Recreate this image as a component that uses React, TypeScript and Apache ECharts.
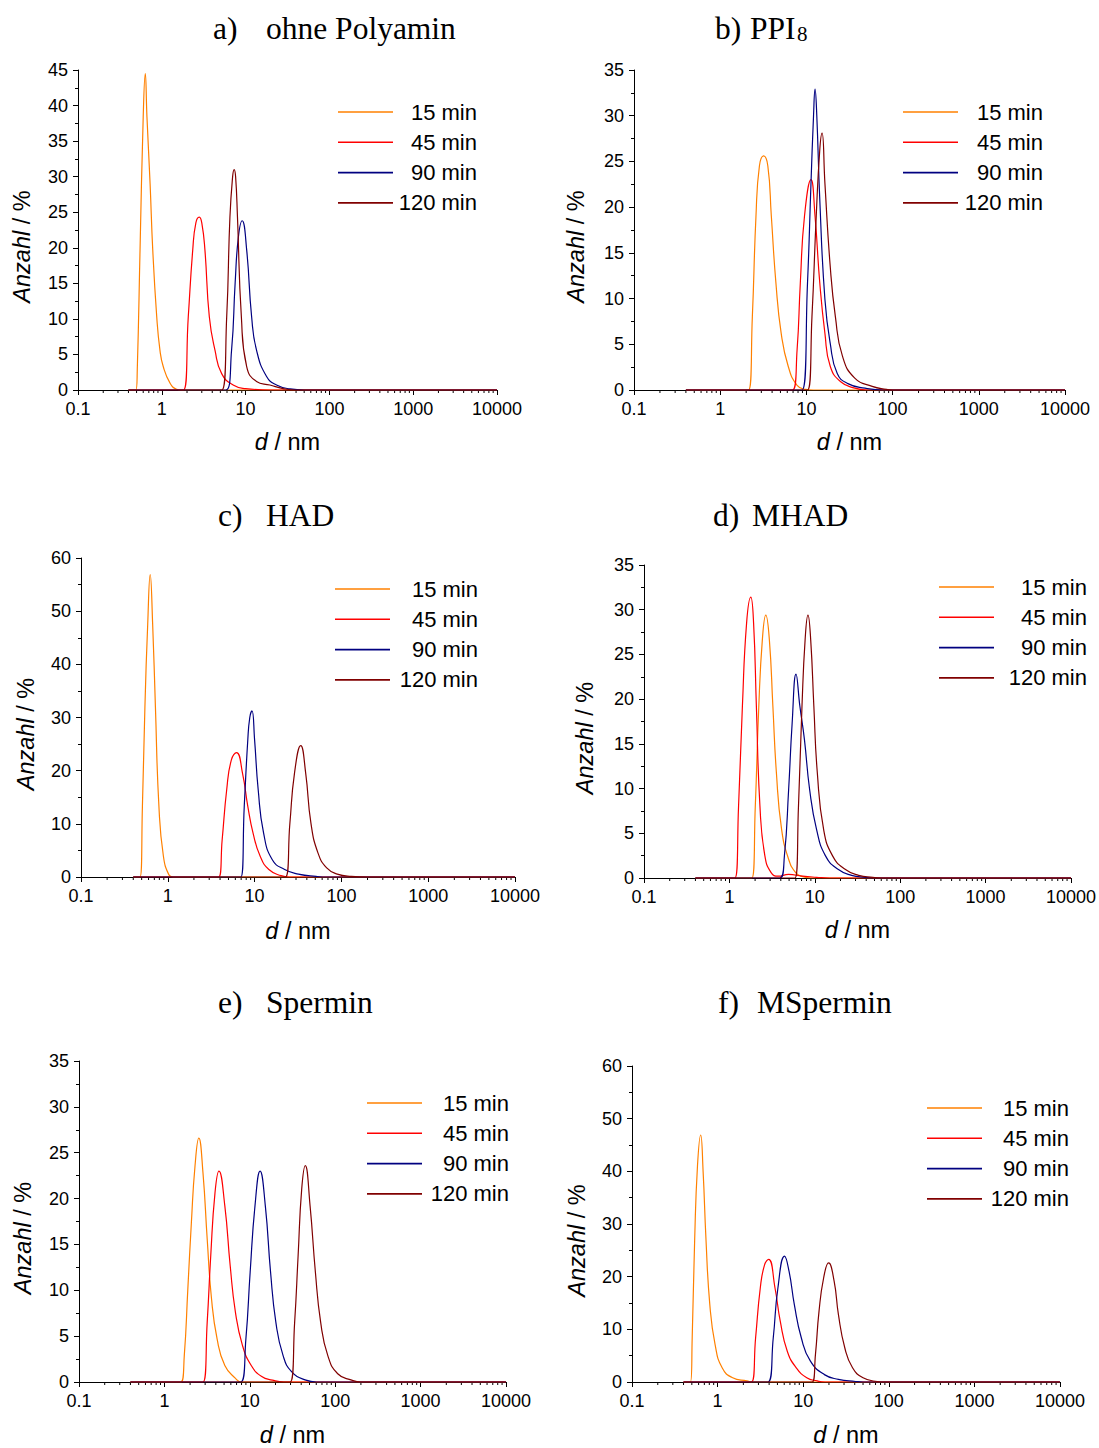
import React, { useEffect, useRef } from 'react';
import * as echarts from 'echarts';

const SANS = '"Liberation Sans", Arial, Helvetica, sans-serif';
const SERIF = '"Liberation Serif", "Times New Roman", serif';

// ---------- labels ----------
const timeNames = ['15 min', '45 min', '90 min', '120 min'];
const timeColors = ['#FF8000', '#FF0000', '#000080', '#800000'];
const xTickValues = [0.1, 1, 10, 100, 1000, 10000];
const panelLetters = ['a)', 'b)', 'c)', 'd)', 'e)', 'f)'];
const panelNames = ['ohne Polyamin', 'PPI', 'HAD', 'MHAD', 'Spermin', 'MSpermin'];
const panelSubscripts = ['', '8', '', '', '', ''];
const yMaxima = [45, 35, 60, 35, 35, 60];
const yIntervals = [5, 5, 10, 5, 5, 10];
const xAxisTitle = '{i|d} / nm';
const yAxisTitle = '{i|Anzahl} / %';

type Pt = [number, number];

// ---------- a) ohne Polyamin ----------
const a15: Pt[] = [[0.4, 0], [0.49, 0], [0.51, 3], [0.55, 19.7], [0.6, 38.4], [0.635, 44.5], [0.665, 38.4], [0.725, 29], [0.78, 19.7], [0.87, 10.3], [0.95, 5.6], [1.04, 3.3], [1.25, 1], [1.5, 0.1], [1.7, 0], [10000, 0]];
const a45: Pt[] = [[0.4, 0], [1.81, 0], [2.07, 10.3], [2.34, 19.7], [2.55, 23.5], [2.8, 24.3], [3.0, 23.5], [3.27, 19.7], [3.69, 10.3], [4.31, 5.6], [5.18, 2.3], [7.1, 0.7], [10, 0.2], [20, 0], [10000, 0]];
const a90: Pt[] = [[0.4, 0], [5.8, 0], [6.8, 5.6], [7.5, 15], [8.2, 21.5], [9.1, 23.8], [10.3, 19.7], [11.8, 10.3], [13.5, 5.6], [17.8, 1.9], [23.4, 0.7], [34, 0.15], [50, 0], [10000, 0]];
const a120: Pt[] = [[0.4, 0], [5.2, 0], [5.95, 10.3], [6.5, 24.3], [7.0, 30], [7.3, 31.0], [7.6, 30], [8.0, 24.3], [8.9, 10.3], [10.3, 3.3], [13.5, 1.2], [19.5, 0.7], [28, 0.2], [40, 0], [10000, 0]];

// ---------- b) PPI8 ----------
const b15: Pt[] = [[0.4, 0], [2.13, 0], [2.36, 8], [2.6, 19], [2.85, 24.5], [3.19, 25.6], [3.57, 24.5], [3.92, 19], [4.43, 11.7], [5.1, 6.2], [6.15, 2.6], [7.8, 0.5], [9.8, 0.07], [12, 0], [10000, 0]];
const b45: Pt[] = [[0.4, 0], [6.9, 0], [7.8, 4.4], [8.5, 11.7], [9.5, 19], [11.3, 23.0], [12.6, 19], [14.3, 11.7], [16.4, 6.2], [18.9, 2.6], [25, 0.9], [36.5, 0.2], [50, 0], [10000, 0]];
const b90: Pt[] = [[0.4, 0], [8.9, 0], [10.3, 11.7], [11.3, 22.6], [12.1, 30], [12.6, 32.9], [13.2, 30], [14.3, 20.8], [16.4, 9.9], [18.9, 5.1], [22.8, 1.8], [30.3, 0.7], [48, 0.2], [80, 0], [10000, 0]];
const b120: Pt[] = [[0.4, 0], [10.3, 0], [11.6, 8], [13, 19], [14.3, 26.3], [15.2, 28.1], [16.4, 22.6], [18.9, 13.5], [21.7, 8], [26.2, 3.7], [36.4, 1.3], [58, 0.4], [85, 0.07], [100, 0], [10000, 0]];

// ---------- c) HAD ----------
const c15: Pt[] = [[0.4, 0], [0.478, 0], [0.51, 13.3], [0.545, 32], [0.587, 47.6], [0.627, 56.9], [0.669, 47.6], [0.72, 32], [0.79, 13.3], [0.89, 3.9], [1.03, 0.4], [1.15, 0], [10000, 0]];
const c45: Pt[] = [[0.4, 0], [3.85, 0], [4.23, 7], [4.77, 16.4], [5.39, 22], [6.2, 23.4], [7.26, 19.5], [8.35, 13.3], [9.6, 8.25], [11.6, 3.9], [14.6, 1.4], [20.2, 0.25], [25, 0], [10000, 0]];
const c90: Pt[] = [[0.4, 0], [6.93, 0], [7.6, 13.3], [8.35, 25.8], [8.8, 30], [9.33, 31.25], [10.0, 25.8], [11.0, 16.4], [12.7, 8.25], [16.0, 3.25], [22.2, 1.4], [32, 0.55], [51, 0.12], [70, 0], [10000, 0]];
const c120: Pt[] = [[0.4, 0], [22.6, 0], [25.5, 10.1], [28.8, 19.5], [34, 24.7], [38.8, 19.5], [44.6, 10.1], [53.8, 4.5], [67.7, 1.7], [89.7, 0.55], [130, 0.12], [200, 0], [10000, 0]];

// ---------- d) MHAD ----------
const d15: Pt[] = [[0.4, 0], [1.83, 0], [2.01, 8], [2.21, 19.2], [2.43, 26.6], [2.67, 29.4], [2.94, 26.6], [3.23, 19.2], [3.55, 11.8], [4.09, 5.4], [4.94, 2.1], [5.97, 0.6], [7.2, 0.15], [9, 0], [10000, 0]];
const d45: Pt[] = [[0.4, 0], [1.16, 0], [1.28, 8], [1.42, 19.2], [1.59, 28.5], [1.78, 31.4], [1.92, 28.5], [2.07, 19.2], [2.28, 8], [2.6, 2.5], [3.08, 0.6], [3.72, 0.2], [4.94, 0.4], [7.2, 0.2], [10.5, 0.08], [15, 0], [10000, 0]];
const d90: Pt[] = [[0.4, 0], [3.9, 0], [4.41, 2.5], [4.94, 9.9], [5.43, 17.3], [6.03, 22.8], [6.69, 19.2], [7.56, 15.5], [8.7, 9.9], [10.5, 5.4], [13.3, 2.5], [18.5, 1], [27, 0.3], [39, 0.07], [50, 0], [10000, 0]];
const d120: Pt[] = [[0.4, 0], [5.86, 0], [6.44, 8], [7.08, 19.2], [7.7, 26.6], [8.32, 29.4], [8.96, 26.6], [9.75, 19.2], [10.7, 11.8], [12.7, 5.4], [16.1, 2.5], [22.4, 1], [32.7, 0.3], [47.8, 0.07], [60, 0], [10000, 0]];

// ---------- e) Spermin ----------
const e15: Pt[] = [[0.4, 0], [1.56, 0], [1.71, 2.9], [1.88, 10.1], [2.07, 17.4], [2.28, 23.5], [2.53, 26.6], [2.83, 22.8], [3.17, 15.6], [3.56, 9.1], [4.14, 4.7], [5.1, 1.8], [6.8, 0.4], [8, 0], [10000, 0]];
const e45: Pt[] = [[0.4, 0], [2.83, 0], [3.17, 6.5], [3.49, 13.8], [3.91, 20.6], [4.35, 23.0], [5.1, 19.2], [5.89, 12.7], [6.79, 7.6], [8.2, 4.0], [10.4, 1.8], [13.8, 0.6], [18.4, 0.2], [25, 0], [10000, 0]];
const e90: Pt[] = [[0.4, 0], [7.83, 0], [9.0, 4.7], [10.1, 12], [11.5, 19.2], [13.2, 23.0], [15.2, 19.2], [17.5, 12], [20.2, 6.5], [24.5, 2.9], [31, 1.1], [45.4, 0.2], [60, 0], [10000, 0]];
const e120: Pt[] = [[0.4, 0], [29.6, 0], [33.5, 6.5], [36.8, 13.8], [40.5, 21], [44.6, 23.6], [50.8, 19.2], [58.6, 12], [67.6, 6.5], [81.8, 2.9], [107, 0.9], [156, 0.2], [200, 0], [10000, 0]];

// ---------- f) MSpermin ----------
const f15: Pt[] = [[0.4, 0], [0.482, 0], [0.505, 8.4], [0.54, 27.2], [0.582, 41], [0.634, 46.9], [0.678, 39.8], [0.731, 27.2], [0.811, 14.7], [0.935, 7.1], [1.13, 2.7], [1.5, 0.8], [2.2, 0.2], [2.6, 0], [10000, 0]];
const f45: Pt[] = [[0.4, 0], [2.48, 0], [2.78, 8.4], [3.15, 17.8], [3.53, 22.2], [3.95, 23.3], [4.69, 17.8], [5.4, 11.5], [6.53, 5.8], [8.3, 2.7], [11, 0.8], [14.6, 0.2], [18, 0], [10000, 0]];
const f90: Pt[] = [[0.4, 0], [3.87, 0], [4.47, 8.4], [5.06, 17.8], [6.05, 23.9], [6.84, 21], [7.88, 14.7], [9.5, 8.4], [12.1, 4.0], [17.7, 1.4], [25.8, 0.5], [41, 0.1], [50, 0], [10000, 0]];
const f120: Pt[] = [[0.4, 0], [12.7, 0], [13.9, 5.2], [15.3, 13.4], [17.3, 19.7], [19.8, 22.6], [23, 19.1], [25.8, 12.8], [30.6, 6.5], [37.7, 2.7], [50, 0.8], [73, 0.1], [90, 0], [10000, 0]];

const panelData: Pt[][][] = [
  [a15, a45, a90, a120],
  [b15, b45, b90, b120],
  [c15, c45, c90, c120],
  [d15, d45, d90, d120],
  [e15, e45, e90, e120],
  [f15, f45, f90, f120],
];

// minor tick positions of the logarithmic axis (2..9 in each decade)
const minorTickValues: number[] = [];
for (const decade of [0.1, 1, 10, 100, 1000]) {
  for (let k = 2; k <= 9; k++) minorTickValues.push(+(k * decade).toPrecision(3));
}

// ---------- layout (pixels) ----------
// [left, top, width, height] of every plot area
const gridBoxes = [
  [78, 70, 419, 320],
  [634, 70, 431, 320],
  [81, 558, 434, 319],
  [644, 565, 428, 313],
  [79, 1061, 427, 323],
  [632, 1066, 428, 318],
];
// [left, top, text box width]
const legendBoxes = [
  [338, 101, 79],
  [903, 101, 80],
  [335, 578, 83],
  [939, 576, 88],
  [367, 1092, 82],
  [927, 1097, 82],
];
// [letter x, name x, middle y]
const titleBoxes = [
  [213, 266, 28],
  [715, 750, 28],
  [218, 266, 515],
  [713, 752, 515],
  [218, 266, 1002],
  [718, 757, 1002],
];
const subscriptX = 797;
const yNameGaps = [44, 46, 43, 47, 44, 43];
const xNameGaps = [40, 40, 42, 40, 41, 41];

const fmtLog = (v: number) => String(+Number(v).toPrecision(6));

function buildOption(): any {
  const grid = gridBoxes.map(([l, t, w, h]) => ({ left: l, top: t, width: w, height: h }));

  const xAxis = gridBoxes.map((_, i) => ({
    type: 'log',
    logBase: 10,
    gridIndex: i,
    min: xTickValues[0],
    max: xTickValues[xTickValues.length - 1],
    splitNumber: 5,
    axisLine: { show: true, onZero: false, lineStyle: { color: '#000', width: 1 } },
    axisTick: { show: true, length: 5, lineStyle: { color: '#000', width: 1 } },
    axisLabel: { color: '#000', fontSize: 18, fontFamily: SANS, margin: 10, formatter: fmtLog },
    splitLine: { show: false },
    name: xAxisTitle,
    nameLocation: 'middle',
    nameGap: xNameGaps[i],
    nameTextStyle: {
      color: '#000', fontSize: 23.5, fontFamily: SANS,
      rich: { i: { fontStyle: 'italic', fontSize: 23.5, fontFamily: SANS, color: '#000' } },
    },
  }));

  const yAxis = gridBoxes.map((_, i) => ({
    type: 'value',
    gridIndex: i,
    min: 0,
    max: yMaxima[i],
    interval: yIntervals[i],
    axisLine: { show: true, lineStyle: { color: '#000', width: 1 } },
    axisTick: { show: true, length: 5, lineStyle: { color: '#000', width: 1 } },
    minorTick: { show: true, splitNumber: 2, length: 3, lineStyle: { color: '#000', width: 1 } },
    axisLabel: { color: '#000', fontSize: 18, fontFamily: SANS, margin: 10 },
    splitLine: { show: false },
    minorSplitLine: { show: false },
    name: yAxisTitle,
    nameLocation: 'middle',
    nameGap: yNameGaps[i],
    nameTextStyle: {
      color: '#000', fontSize: 23.5, fontFamily: SANS,
      padding: [0, 33, 0, 0],
      rich: { i: { fontStyle: 'italic', fontSize: 23.5, fontFamily: SANS, color: '#000' } },
    },
  }));

  const series: any[] = [];
  panelData.forEach((curves, i) => {
    curves.forEach((pts, j) => {
      series.push({
        type: 'line',
        name: timeNames[j],
        xAxisIndex: i,
        yAxisIndex: i,
        data: pts,
        symbol: 'none',
        showSymbol: false,
        smooth: 0.5,
        color: timeColors[j],
        lineStyle: { color: timeColors[j], width: 1.2 },
        itemStyle: { color: timeColors[j] },
        z: 3 + j,
      });
    });
    series.push({
      type: 'custom',
      name: 'minorTicks',
      xAxisIndex: i,
      yAxisIndex: i,
      data: minorTickValues.map((v) => [v, 0]),
      clip: false,
      silent: true,
      z: 2,
      renderItem: (_p: any, api: any) => {
        const p = api.coord([api.value(0), 0]);
        return {
          type: 'line',
          shape: { x1: p[0], y1: p[1], x2: p[0], y2: p[1] + 3 },
          style: { stroke: '#000', lineWidth: 1 },
        };
      },
    });
  });

  const legend = legendBoxes.map(([l, t, w]) => ({
    left: l,
    top: t,
    orient: 'vertical',
    padding: 0,
    icon: 'rect',
    itemWidth: 55,
    itemHeight: 1.6,
    itemGap: 8.3,
    selectedMode: false,
    data: timeNames,
    formatter: (n: string) => `{r|${n}}`,
    textStyle: {
      color: '#000', fontSize: 22, fontFamily: SANS,
      rich: { r: { width: w, align: 'right', fontSize: 22, lineHeight: 22, fontFamily: SANS, color: '#000' } },
    },
  }));

  const graphic: any[] = [];
  titleBoxes.forEach(([lx, nx, my], i) => {
    graphic.push({
      type: 'text', x: lx, y: my,
      style: { text: panelLetters[i], fontSize: 31.5, fontFamily: SERIF, fill: '#000', align: 'left', verticalAlign: 'middle' },
    });
    graphic.push({
      type: 'text', x: nx, y: my,
      style: { text: panelNames[i], fontSize: 31.5, fontFamily: SERIF, fill: '#000', align: 'left', verticalAlign: 'middle' },
    });
    if (panelSubscripts[i]) {
      graphic.push({
        type: 'text', x: subscriptX, y: my + 6,
        style: { text: panelSubscripts[i], fontSize: 21, fontFamily: SERIF, fill: '#000', align: 'left', verticalAlign: 'middle' },
      });
    }
  });

  return {
    animation: false,
    backgroundColor: '#fff',
    grid,
    xAxis,
    yAxis,
    series,
    legend,
    graphic,
  };
}

export default function App() {
  const ref = useRef<HTMLDivElement>(null);
  useEffect(() => {
    if (!ref.current) return;
    const chart = echarts.init(ref.current, null, { renderer: 'svg' });
    chart.setOption(buildOption());
    return () => chart.dispose();
  }, []);
  return (
    <div
      ref={ref}
      style={{ position: 'absolute', left: 0, top: 0, width: 1099, height: 1448, background: '#fff' }}
    />
  );
}
